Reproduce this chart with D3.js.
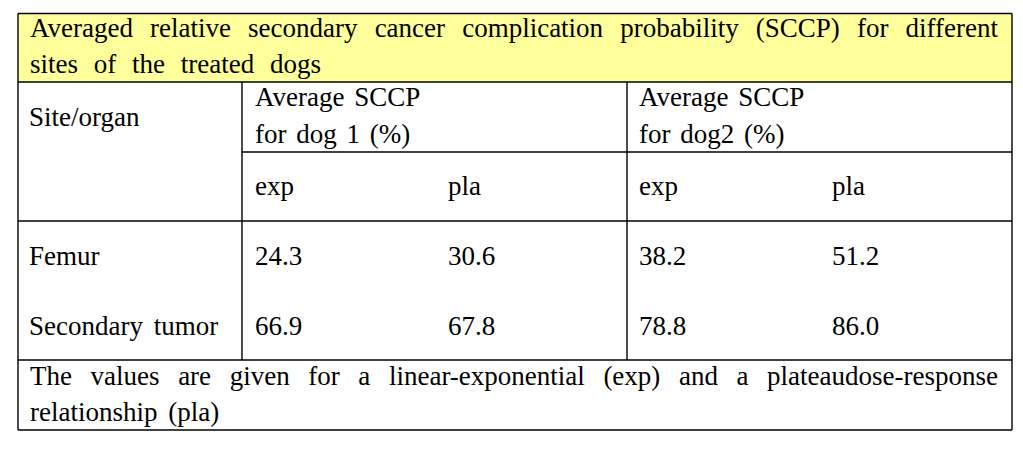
<!DOCTYPE html>
<html>
<head>
<meta charset="utf-8">
<script src="https://cdn.jsdelivr.net/npm/d3@7"></script>
<style>
  html, body { margin: 0; padding: 0; background: #fff; }
  svg { display: block; }
</style>
</head>
<body>
<svg id="chart" width="1023" height="451"></svg>
<script>
// ---- data ----
const titleLines = [
  "Averaged relative secondary cancer complication probability (SCCP) for different",
  "sites of the treated dogs"
];
const headerSite = "Site/organ";
const dogHeaders = [["Average SCCP", "for dog 1 (%)"], ["Average SCCP", "for dog2 (%)"]];
const subHeaders = ["exp", "pla", "exp", "pla"];
const sites = ["Femur", "Secondary tumor"];
const dog1Exp = [24.3, 66.9];
const dog1Pla = [30.6, 67.8];
const dog2Exp = [38.2, 78.8];
const dog2Pla = [51.2, 86.0];
const footLines = [
  "The values are given for a linear-exponential (exp) and a plateaudose-response",
  "relationship (pla)"
];

// ---- layout ----
const svg = d3.select("#chart");
const L = 18, R = 1012, T = 13.5, B = 430;
const yHead = 82, yDogSub = 152, ySub = 221, yData = 360;
const xDiv1 = 242, xDiv2 = 627;
const FONT = "'Liberation Serif', 'DejaVu Serif', serif";

svg.append("rect").attr("x", L).attr("y", T).attr("width", R - L).attr("height", yHead - T)
  .attr("fill", "#ffff9c");

const gText = svg.append("g")
  .attr("font-family", FONT)
  .style("font-family", FONT)
  .attr("font-size", 27)
  .attr("fill", "#000");

function justify(g, text, x0, x1, y) {
  const words = text.split(" ");
  const nodes = words.map(w => g.append("text").attr("y", y).text(w));
  const widths = nodes.map(n => n.node().getComputedTextLength());
  const total = d3.sum(widths);
  const gap = (x1 - x0 - total) / (words.length - 1);
  let x = x0;
  nodes.forEach((n, i) => { n.attr("x", x); x += widths[i] + gap; });
}
function plain(g, text, x, y, ws = 5) {
  return g.append("text").attr("x", x).attr("y", y).attr("word-spacing", ws).text(text);
}

justify(gText, titleLines[0], 30, 998, 37);
plain(gText, titleLines[1], 30, 73, 9);

plain(gText, headerSite, 29, 126);
const dogX = [255, 639];
dogHeaders.forEach((h, i) => {
  plain(gText, h[0], dogX[i], 106, 3);
  plain(gText, h[1], dogX[i], 143, 3);
});

const cols = ["d1e", "d1p", "d2e", "d2p"];
const colX = d3.scaleOrdinal().domain(cols).range([255, 448, 639, 832]);
subHeaders.forEach((s, i) => plain(gText, s, colX(cols[i]), 195));

const rowY = d3.scalePoint().domain(sites).range([265, 335]);
const series = [dog1Exp, dog1Pla, dog2Exp, dog2Pla];
sites.forEach((s, r) => {
  plain(gText, s, 29, rowY(s), 4);
  series.forEach((arr, c) => {
    plain(gText, arr[r].toFixed(1), colX(cols[c]), rowY(s));
  });
});

justify(gText, footLines[0], 30, 998, 385);
plain(gText, footLines[1], 30, 421, 4);

const gl = svg.append("g").attr("stroke", "#000").attr("stroke-width", 1.4).attr("fill", "none");
function line(x1, y1, x2, y2) { gl.append("line").attr("x1", x1).attr("y1", y1).attr("x2", x2).attr("y2", y2); }
line(L, T, R, T);
line(L, B, R, B);
line(L, T, L, B);
line(R, T, R, B);
line(L, yHead, R, yHead);
line(xDiv1, yDogSub, R, yDogSub);
line(L, ySub, R, ySub);
line(L, yData, R, yData);
line(xDiv1, yHead, xDiv1, yData);
line(xDiv2, yHead, xDiv2, yData);
</script>
</body>
</html>
